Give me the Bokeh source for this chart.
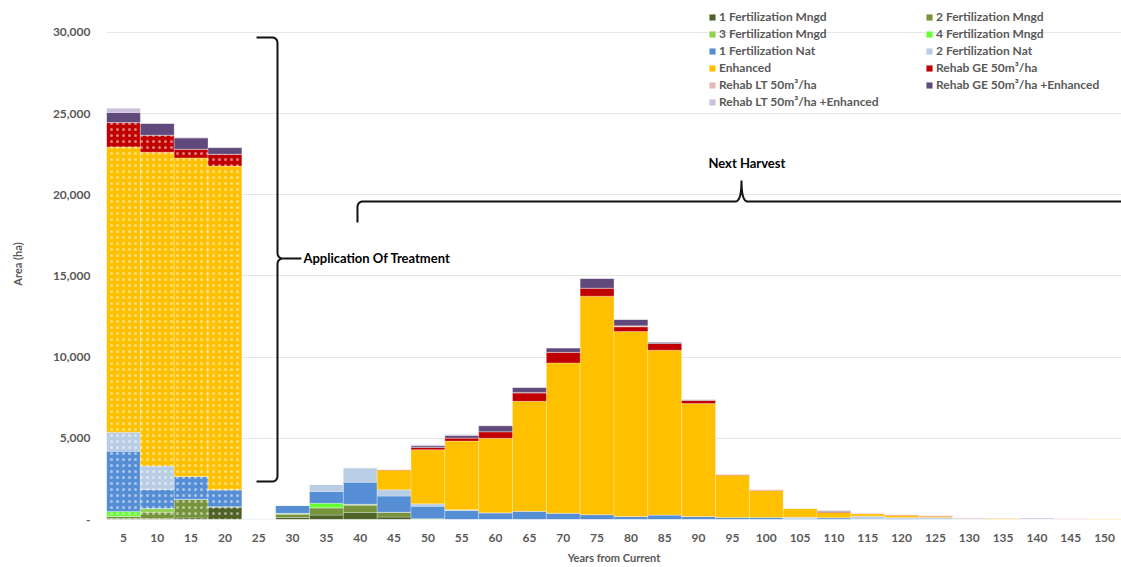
import numpy as np
from bokeh.plotting import figure
from bokeh.models import (Range1d, FixedTicker, CustomJSTickFormatter, Legend,
                          LegendItem, ColumnDataSource)
from bokeh.core.properties import value
from bokeh.embed import file_html
from bokeh.resources import INLINE

# ---------------- data ----------------
years = [5, 10, 15, 20, 25, 30, 35, 40, 45, 50, 55, 60, 65, 70, 75,
         80, 85, 90, 95, 100, 105, 110, 115, 120, 125, 130, 135, 140, 145, 150]

fert1_mngd = [50, 50, 100, 780, 0, 120, 270, 430, 150, 0, 0, 0, 0, 0, 0,
              0, 0, 0, 0, 0, 0, 0, 0, 0, 0, 0, 0, 0, 0, 0]
fert2_mngd = [150, 400, 1150, 0, 0, 200, 450, 450, 300, 0, 0, 0, 0, 0, 0,
              0, 0, 0, 0, 0, 0, 0, 0, 0, 0, 0, 0, 0, 0, 0]
fert3_mngd = [0, 220, 0, 0, 0, 60, 0, 60, 0, 50, 0, 0, 0, 0, 0,
              0, 0, 0, 0, 0, 0, 0, 0, 0, 0, 0, 0, 0, 0, 0]
fert4_mngd = [300, 0, 0, 0, 0, 0, 280, 0, 0, 0, 0, 0, 0, 0, 0,
              0, 0, 0, 0, 0, 0, 0, 0, 0, 0, 0, 0, 0, 0, 0]
fert1_nat = [3700, 1180, 1400, 1050, 0, 480, 730, 1360, 990, 770, 560, 410, 510, 390, 300,
             180, 280, 180, 130, 130, 40, 110, 20, 30, 20, 0, 0, 0, 0, 0]
fert2_nat = [1180, 1440, 0, 0, 80, 30, 430, 870, 390, 150, 40, 0, 0, 0, 0,
             0, 0, 0, 0, 0, 100, 0, 180, 100, 100, 40, 0, 30, 0, 0]
enhanced = [17570, 19335, 19625, 19950, 0, 0, 0, 30, 1210, 3330, 4230, 4590, 6770, 9250, 13460,
            11400, 10150, 6960, 2600, 1650, 560, 320, 160, 130, 80, 0, 50, 0, 0, 50]
rehab_ge = [1500, 1050, 535, 720, 0, 0, 0, 0, 40, 140, 190, 410, 510, 660, 490,
            290, 410, 200, 50, 50, 0, 60, 0, 40, 40, 0, 30, 0, 0, 0]
rehab_lt = [0, 0, 0, 0, 0, 0, 0, 0, 0, 0, 0, 0, 40, 0, 0,
            60, 0, 0, 0, 0, 0, 0, 50, 0, 0, 70, 0, 0, 70, 0]
rehab_ge_enh = [620, 720, 700, 410, 0, 0, 0, 0, 0, 100, 160, 370, 300, 270, 600,
                390, 80, 40, 0, 0, 0, 50, 0, 0, 0, 0, 0, 0, 0, 0]
rehab_lt_enh = [270, 30, 0, 0, 0, 0, 0, 0, 0, 70, 60, 0, 0, 0, 0,
                0, 0, 0, 0, 0, 0, 0, 0, 0, 0, 0, 0, 60, 0, 0]

series_keys = ["fert1_mngd", "fert2_mngd", "fert3_mngd", "fert4_mngd", "fert1_nat",
               "fert2_nat", "enhanced", "rehab_ge", "rehab_lt", "rehab_ge_enh", "rehab_lt_enh"]
series_labels = ["1 Fertilization Mngd", "2 Fertilization Mngd", "3 Fertilization Mngd",
                 "4 Fertilization Mngd", "1 Fertilization Nat", "2 Fertilization Nat",
                 "Enhanced", "Rehab GE 50m³/ha", "Rehab LT 50m³/ha",
                 "Rehab GE 50m³/ha +Enhanced", "Rehab LT 50m³/ha +Enhanced"]
series_colors = ["#4f6228", "#77933c", "#92d050", "#66ff33", "#558ed5",
                 "#b9cde5", "#ffc000", "#c00000", "#e6b9b8", "#604a7b", "#ccc1da"]
series_values = [fert1_mngd, fert2_mngd, fert3_mngd, fert4_mngd, fert1_nat,
                 fert2_nat, enhanced, rehab_ge, rehab_lt, rehab_ge_enh, rehab_lt_enh]

# years of treatment application, shown with a dotted pattern
dotted_years = [5, 10, 15, 20]

y_ticks = [0, 5000, 10000, 15000, 20000, 25000, 30000]

# ---------------- figure ----------------
src = ColumnDataSource(dict(years=years, **dict(zip(series_keys, series_values))))

p = figure(width=1121, height=567, x_range=Range1d(2.5, 152.5), y_range=Range1d(0, 31478),
           output_backend="svg", toolbar_location=None,
           min_border_left=106, min_border_right=0, min_border_top=8, min_border_bottom=48)
p.outline_line_color = None
p.background_fill_color = "white"

renderers = p.vbar_stack(series_keys, x="years", width=5, source=src,
                         color=series_colors, line_color="white", line_alpha=0.45, line_width=0.6)
for r, c in zip(renderers, series_colors):
    r.glyph.fill_color = c
    r.glyph.line_color = "white"

# dotted overlay on treatment bars (up to top of Rehab GE layer)
vals = np.array(series_values, dtype=float)
cum8 = vals[:8].sum(axis=0)
dot_top = [cum8[years.index(y)] for y in dotted_years]
p.vbar(x=dotted_years, top=dot_top, bottom=0, width=5, fill_alpha=0, line_alpha=0,
       hatch_pattern="dot", hatch_color="white", hatch_alpha=0.5, hatch_scale=6, hatch_weight=1.0)

# axes
font = "Lato"
grey = "#595959"
p.xaxis.ticker = FixedTicker(ticks=years)
p.yaxis.ticker = FixedTicker(ticks=y_ticks)
p.yaxis.formatter = CustomJSTickFormatter(
    code="return tick == 0 ? '-' : tick.toLocaleString('en-US');")
for ax in (p.xaxis, p.yaxis):
    ax.axis_line_color = None
    ax.major_tick_line_color = None
    ax.minor_tick_line_color = None
    ax.major_tick_out = 0
    ax.major_tick_in = 0
    ax.major_label_text_font = font
    ax.major_label_text_font_style = "bold"
    ax.major_label_text_font_size = "12px"
    ax.major_label_text_color = grey
    ax.axis_label_text_font = font
    ax.axis_label_text_font_style = "bold"
    ax.axis_label_text_font_size = "11px"
    ax.axis_label_text_color = grey
p.xaxis.axis_label = "Years from Current"
p.yaxis.axis_label = "Area (ha)"
p.xaxis.major_label_standoff = 14
p.xaxis.axis_label_standoff = 6
p.yaxis.major_label_standoff = 16
p.yaxis.axis_label_standoff = 26

p.xgrid.grid_line_color = None
p.ygrid.grid_line_color = "#e6e6e6"
p.ygrid.grid_line_width = 1

# legends (two columns)
items = [LegendItem(label=l, renderers=[r]) for l, r in zip(series_labels, renderers)]
col1 = items[0::2]
col2 = items[1::2]
for its, loc in ((col1, (602, 410)), (col2, (819, 427))):
    lg = Legend(items=its, location=loc, orientation="vertical", padding=0, spacing=2,
                glyph_width=8, glyph_height=8, label_height=12, label_standoff=3,
                label_text_font=font, label_text_font_style="bold",
                label_text_font_size="12px", label_text_color=grey,
                background_fill_alpha=0, border_line_alpha=0, margin=0)
    p.add_layout(lg)


# ---------------- brace annotations ----------------
def quad(p0, c, p1, n=10):
    t = np.linspace(0, 1, n)
    x = (1 - t) ** 2 * p0[0] + 2 * (1 - t) * t * c[0] + t ** 2 * p1[0]
    y = (1 - t) ** 2 * p0[1] + 2 * (1 - t) * t * c[1] + t ** 2 * p1[1]
    return list(x), list(y)


def path(segments):
    xs, ys = [], []
    for s in segments:
        xs += s[0]
        ys += s[1]
    return xs, ys


rx, ry = 0.9, 370  # corner radii (years, ha)

# vertical brace: application of treatment
xs_, xl, xp = 27.77, 24.67, 28.7
yt, yb, ym = 29692, 2341, 16078
b1 = path([
    ([xl, xs_ - rx], [yt, yt]),
    quad((xs_ - rx, yt), (xs_, yt), (xs_, yt - ry)),
    ([xs_, xs_], [yt - ry, ym + ry]),
    quad((xs_, ym + ry), (xs_, ym), (xp, ym)),
    quad((xp, ym), (xs_, ym), (xs_, ym - ry)),
    ([xs_, xs_], [ym - ry, yb + ry]),
    quad((xs_, yb + ry), (xs_, yb), (xs_ - rx, yb)),
    ([xs_ - rx, xl], [yb, yb]),
])
p.line(b1[0], b1[1], line_color="#111111", line_width=2)
p.line([xp, 31.3], [ym, ym], line_color="#111111", line_width=2)
p.text(x=[31.6], y=[ym], text=["Application Of Treatment"], text_font=value(font),
       text_font_style="bold", text_font_size="13px", text_color="black",
       text_baseline="middle", text_align="left")

# horizontal brace: next harvest
xL, xk = 39.59, 96.34
yl, ye, yk = 19589, 18296, 20883
b2 = path([
    ([xL, xL], [ye, yl - ry]),
    quad((xL, yl - ry), (xL, yl), (xL + rx, yl)),
    ([xL + rx, xk - rx], [yl, yl]),
    quad((xk - rx, yl), (xk, yl), (xk, yk)),
    quad((xk, yk), (xk, yl), (xk + rx, yl)),
    ([xk + rx, 160], [yl, yl]),
])
p.line(b2[0], b2[1], line_color="#111111", line_width=2)
p.text(x=[91.46], y=[21949], text=["Next Harvest"], text_font=value(font),
       text_font_style="bold", text_font_size="13px", text_color="black",
       text_baseline="middle", text_align="left")

open("out.html", "w").write(file_html(p, INLINE))
